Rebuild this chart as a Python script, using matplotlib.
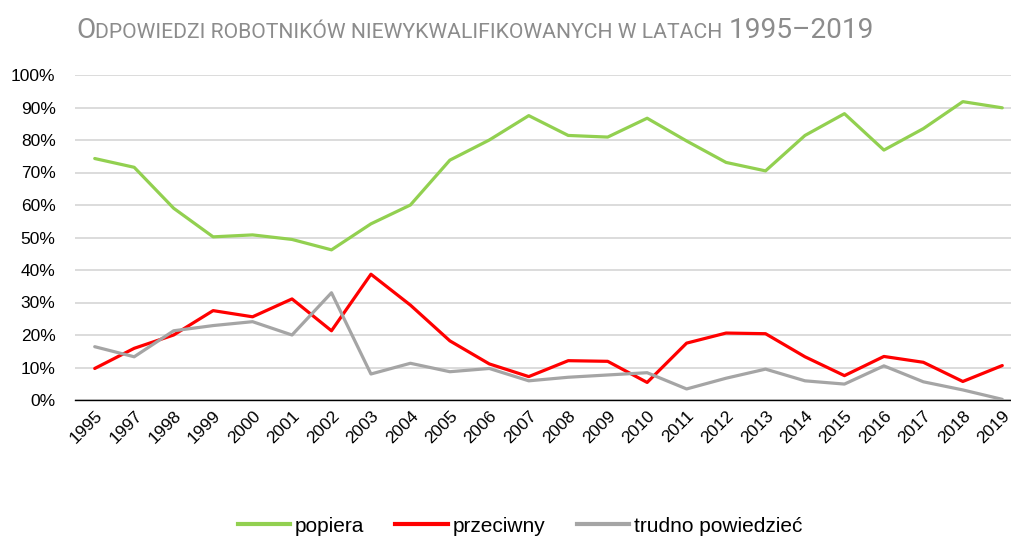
import matplotlib
matplotlib.use("Agg")
import matplotlib.pyplot as plt
from matplotlib.ticker import PercentFormatter
from matplotlib.lines import Line2D

years = ["1995", "1997", "1998", "1999", "2000", "2001", "2002", "2003", "2004",
         "2005", "2006", "2007", "2008", "2009", "2010", "2011", "2012", "2013",
         "2014", "2015", "2016", "2017", "2018", "2019"]
popiera = [74.3, 71.6, 59.0, 50.2, 50.8, 49.4, 46.2, 54.2, 60.0, 73.8, 80.0, 87.5,
           81.4, 80.9, 86.7, 79.7, 73.1, 70.5, 81.4, 88.1, 76.9, 83.5, 91.8, 89.9]
przeciwny = [9.7, 15.9, 20.0, 27.5, 25.6, 31.1, 21.3, 38.7, 29.2, 18.2, 11.1, 7.2,
             12.1, 11.9, 5.4, 17.5, 20.6, 20.4, 13.3, 7.5, 13.4, 11.6, 5.7, 10.6]
trudno = [16.4, 13.3, 21.3, 22.9, 24.1, 20.0, 33.0, 8.0, 11.3, 8.7, 9.7, 5.9,
          7.0, 7.7, 8.4, 3.4, 6.7, 9.5, 5.9, 4.9, 10.5, 5.6, 3.1, 0.2]
series_names = ["popiera", "przeciwny", "trudno powiedzieć"]
colors = ["#92D050", "#FF0000", "#A5A5A5"]

W, H = 1011, 538
fig = plt.figure(figsize=(W / 100, H / 100), dpi=100)
plt.rcParams['font.family'] = ['Liberation Sans', 'DejaVu Sans']

x0, x1 = 75, 1022
y0, y1 = 400, 75
ax = fig.add_axes([x0 / W, 1 - y0 / H, (x1 - x0) / W, (y0 - y1) / H])

xs = list(range(len(years)))
for vals, c in zip([popiera, przeciwny, trudno], colors):
    ax.plot(xs, vals, color=c, lw=2.3, solid_joinstyle='round', solid_capstyle='round', zorder=3)

ax.set_xlim(-0.5, len(years) - 0.5)
ax.set_ylim(0, 100)
ax.set_yticks(range(0, 101, 10))
ax.yaxis.set_major_formatter(PercentFormatter(decimals=0))
ax.set_xticks(xs)
ax.set_xticklabels(years, rotation=45, ha='right', rotation_mode='anchor', fontsize=12.5, color='#000000')
ax.tick_params(axis='y', labelsize=12.5, length=0, pad=14, colors='#000000')
ax.tick_params(axis='x', length=0, pad=6)
ax.grid(axis='y', color='#D9D9D9', lw=1.3, zorder=0)
ax.set_axisbelow(True)
for s in ['top', 'right', 'left']:
    ax.spines[s].set_visible(False)
ax.spines['bottom'].set_color('#000000')
ax.spines['bottom'].set_linewidth(1.0)
ax.spines['bottom'].set_zorder(2)

# Title with small-caps style
fig.canvas.draw()
renderer = fig.canvas.get_renderer()
tcol = '#8C8C8C'
ty = 1 - 38 / H
parts = [("O", 20.2), ("DPOWIEDZI ROBOTNIKÓW NIEWYKWALIFIKOWANYCH W LATACH", 15.2), (" 1995–2019", 20.2)]
xpos = 76 / W
for txt, fs in parts:
    t = fig.text(xpos, ty, txt, fontsize=fs, color=tcol, family=['Roboto', 'DejaVu Sans'],
                 va='baseline', ha='left')
    bb = t.get_window_extent(renderer)
    xpos += bb.width / W

handles = [Line2D([], [], color=c, lw=3) for c in colors]
fig.legend(handles, series_names, loc='center', bbox_to_anchor=(520 / W, 1 - 526 / H),
           ncol=3, frameon=False, fontsize=15, handlelength=2.5, handletextpad=0.25,
           columnspacing=1.5)

fig.savefig("out.png", dpi=100)
